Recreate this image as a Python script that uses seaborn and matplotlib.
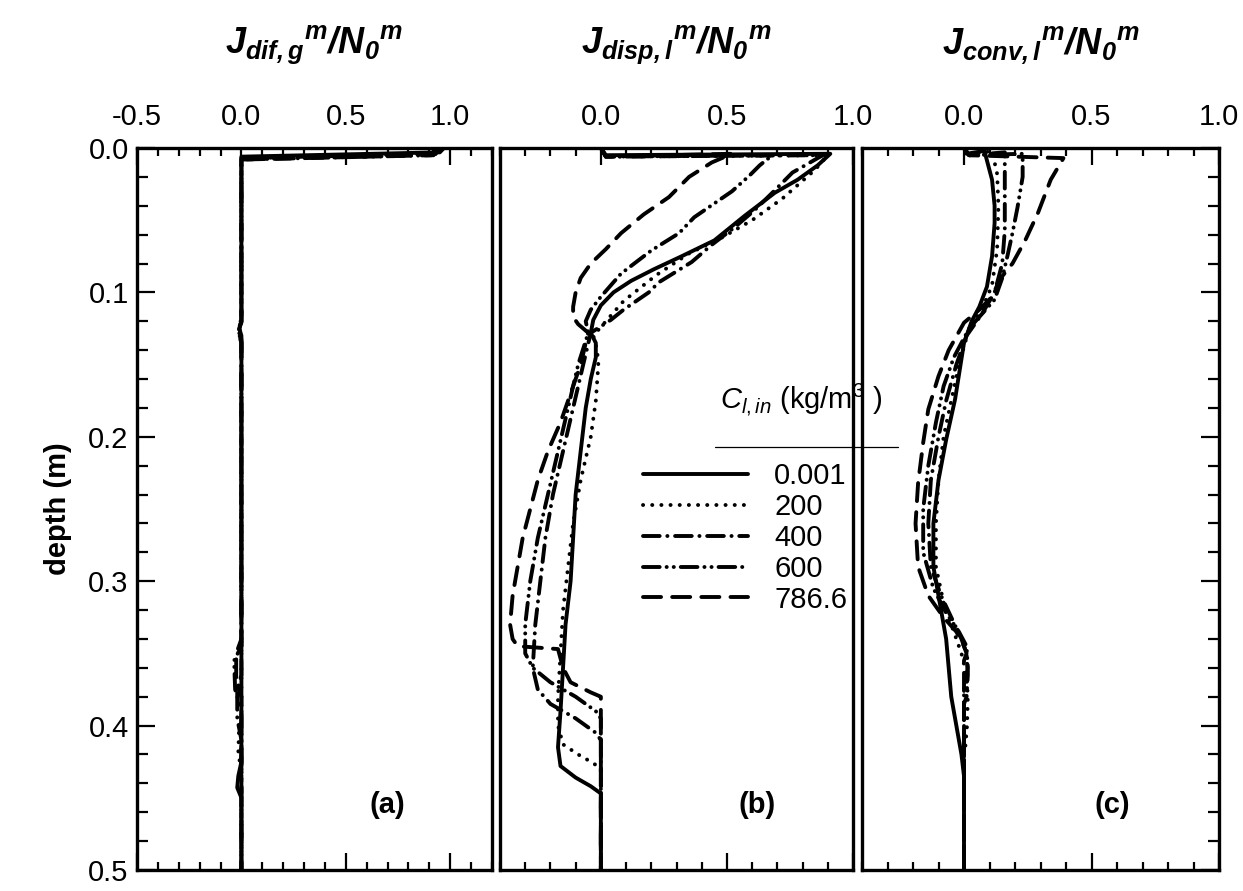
import matplotlib
matplotlib.use('Agg')
import matplotlib.pyplot as plt
import seaborn as sns
from matplotlib.ticker import MultipleLocator, FormatStrFormatter
from matplotlib.lines import Line2D

# Valori: profondita' (m) e flusso normalizzato
labels = ['0.001', '200', '400', '600', '786.6']

# (a) J_dif,g / N0
a_solid_d = [0, 0.003, 0.006, 0.12, 0.125, 0.13, 0.425, 0.435, 0.443, 0.45, 0.5]
a_solid_v = [0.97, 0.95, 0.0, 0.0, -0.01, 0.0, 0.0, -0.015, -0.02, 0.0, 0.0]
a_dot_d = [0, 0.004, 0.007, 0.118, 0.124, 0.132, 0.395, 0.405, 0.42, 0.43, 0.5]
a_dot_v = [0.96, 0.94, 0.0, 0.0, -0.012, 0.0, 0.0, -0.012, -0.015, 0.0, 0.0]
a_dd_d = [0, 0.004, 0.007, 0.12, 0.126, 0.133, 0.365, 0.375, 0.395, 0.41, 0.5]
a_dd_v = [0.95, 0.93, 0.0, 0.0, -0.015, 0.0, 0.0, -0.02, -0.02, 0.0, 0.0]
a_ddd_d = [0, 0.005, 0.008, 0.122, 0.127, 0.134, 0.345, 0.355, 0.375, 0.39, 0.5]
a_ddd_v = [0.94, 0.92, 0.0, 0.0, -0.015, 0.0, 0.0, -0.035, -0.03, 0.0, 0.0]
a_dash_d = [0, 0.005, 0.008, 0.12, 0.128, 0.135, 0.34, 0.35, 0.37, 0.38, 0.5]
a_dash_v = [0.93, 0.91, 0.0, 0.0, -0.015, 0.0, 0.0, -0.025, -0.025, 0.0, 0.0]

# (b) J_disp,l / N0
b_solid_d = [0, 0.005, 0.004, 0.012, 0.022, 0.031, 0.047, 0.064, 0.075, 0.084, 0.092,
             0.100, 0.109, 0.119, 0.128, 0.135, 0.145, 0.16, 0.18, 0.21, 0.24, 0.27,
             0.30, 0.33, 0.36, 0.39, 0.415, 0.428, 0.436, 0.442, 0.447, 0.5]
b_solid_v = [0, 0.02, 0.91, 0.86, 0.78, 0.69, 0.57, 0.45, 0.32, 0.21, 0.12,
             0.05, 0.0, -0.03, -0.04, -0.02, -0.02, -0.04, -0.06, -0.08, -0.1, -0.11,
             -0.12, -0.14, -0.15, -0.16, -0.17, -0.16, -0.10, -0.04, 0.0, 0.0]
b_dot_d = [0, 0.006, 0.005, 0.015, 0.035, 0.05, 0.062, 0.073, 0.088, 0.106, 0.124,
           0.13, 0.14, 0.15, 0.175, 0.2, 0.23, 0.26, 0.29, 0.32, 0.35, 0.38, 0.40,
           0.413, 0.42, 0.426, 0.43, 0.5]
b_dot_v = [0, 0.02, 0.9, 0.85, 0.72, 0.6, 0.48, 0.35, 0.22, 0.09, 0.0,
           -0.03, -0.015, -0.01, -0.02, -0.04, -0.08, -0.11, -0.13, -0.15, -0.16, -0.17, -0.17,
           -0.15, -0.09, -0.03, 0.0, 0.0]
b_dd_d = [0, 0.006, 0.005, 0.017, 0.031, 0.043, 0.055, 0.067, 0.079, 0.093, 0.1, 0.112,
          0.119, 0.128, 0.15, 0.18, 0.21, 0.24, 0.27, 0.30, 0.33, 0.36, 0.375, 0.385,
          0.395, 0.405, 0.41, 0.5]
b_dd_v = [0, 0.02, 0.88, 0.76, 0.68, 0.61, 0.53, 0.44, 0.36, 0.23, 0.19, 0.09,
          0.04, -0.04, -0.07, -0.11, -0.15, -0.19, -0.22, -0.24, -0.26, -0.27, -0.25, -0.2,
          -0.1, -0.02, 0.0, 0.0]
b_ddd_d = [0, 0.006, 0.005, 0.012, 0.019, 0.030, 0.048, 0.059, 0.071, 0.087, 0.103, 0.112,
           0.12, 0.128, 0.15, 0.18, 0.21, 0.24, 0.27, 0.30, 0.33, 0.35, 0.36, 0.37,
           0.38, 0.39, 0.395, 0.5]
b_ddd_v = [0, 0.02, 0.68, 0.63, 0.59, 0.52, 0.37, 0.31, 0.2, 0.08, 0.0, -0.04,
           -0.06, -0.05, -0.09, -0.13, -0.17, -0.21, -0.25, -0.28, -0.30, -0.30, -0.27, -0.2,
           -0.1, -0.02, 0.0, 0.0]
b_dash_d = [0, 0.006, 0.004, 0.01, 0.02, 0.034, 0.046, 0.059, 0.07, 0.08, 0.09, 0.1,
            0.11, 0.117, 0.122, 0.128, 0.135, 0.15, 0.17, 0.19, 0.21, 0.23, 0.25, 0.27, 0.29,
            0.31, 0.33, 0.34, 0.345, 0.347, 0.36, 0.37, 0.377, 0.38, 0.5]
b_dash_v = [0, 0.02, 0.52, 0.44, 0.35, 0.27, 0.17, 0.08, 0.02, -0.04, -0.08, -0.1,
            -0.11, -0.11, -0.09, -0.05, -0.06, -0.08, -0.12, -0.16, -0.21, -0.25, -0.28, -0.31, -0.33,
            -0.35, -0.36, -0.35, -0.33, -0.17, -0.15, -0.12, -0.04, 0.0, 0.0]

# (c) J_conv,l / N0
c_solid_d = [0, 0.004, 0.002, 0.022, 0.04, 0.052, 0.075, 0.096, 0.11, 0.12, 0.135, 0.174,
             0.202, 0.23, 0.26, 0.29, 0.32, 0.34, 0.36, 0.38, 0.40, 0.42, 0.435, 0.5]
c_solid_v = [0, 0.01, 0.08, 0.11, 0.12, 0.12, 0.11, 0.09, 0.06, 0.03, 0.0, -0.035,
             -0.07, -0.1, -0.12, -0.12, -0.09, -0.07, -0.06, -0.05, -0.03, -0.01, 0.0, 0.0]
c_dot_d = [0, 0.005, 0.002, 0.018, 0.04, 0.07, 0.095, 0.112, 0.125, 0.15, 0.175, 0.2,
           0.23, 0.26, 0.29, 0.315, 0.335, 0.35, 0.365, 0.38, 0.40, 0.415, 0.42, 0.5]
c_dot_v = [0, 0.02, 0.11, 0.13, 0.135, 0.13, 0.11, 0.07, 0.02, -0.02, -0.05, -0.08,
           -0.1, -0.11, -0.11, -0.08, -0.04, -0.01, 0.01, 0.015, 0.012, 0.005, 0.0, 0.0]
c_dd_d = [0, 0.005, 0.003, 0.028, 0.057, 0.08, 0.1, 0.115, 0.13, 0.15, 0.175, 0.2, 0.23,
          0.26, 0.29, 0.31, 0.325, 0.34, 0.35, 0.365, 0.38, 0.385, 0.5]
c_dd_v = [0, 0.02, 0.16, 0.16, 0.16, 0.15, 0.12, 0.07, 0.01, -0.03, -0.07, -0.1, -0.13,
          -0.14, -0.13, -0.09, -0.05, -0.01, 0.01, 0.015, 0.01, 0.0, 0.0]
c_ddd_d = [0, 0.005, 0.004, 0.02, 0.041, 0.059, 0.075, 0.09, 0.105, 0.115, 0.125, 0.145,
           0.165, 0.19, 0.22, 0.25, 0.28, 0.305, 0.322, 0.335, 0.345, 0.36, 0.37, 0.375, 0.5]
c_ddd_v = [0, 0.02, 0.23, 0.23, 0.21, 0.19, 0.17, 0.15, 0.12, 0.07, 0.02, -0.04,
           -0.08, -0.11, -0.14, -0.16, -0.16, -0.12, -0.07, -0.02, 0.01, 0.015, 0.01, 0.0, 0.0]
c_dash_d = [0, 0.005, 0.007, 0.022, 0.045, 0.064, 0.08, 0.091, 0.103, 0.112, 0.121, 0.14,
            0.158, 0.181, 0.204, 0.232, 0.26, 0.29, 0.31, 0.325, 0.335, 0.345, 0.35, 0.355, 0.5]
c_dash_v = [0, 0.02, 0.39, 0.34, 0.29, 0.24, 0.19, 0.14, 0.11, 0.06, 0.0, -0.06,
            -0.1, -0.14, -0.16, -0.18, -0.19, -0.18, -0.14, -0.08, -0.03, 0.0, 0.01, 0.0, 0.0]

panel_a = [(a_solid_v, a_solid_d), (a_dot_v, a_dot_d), (a_dd_v, a_dd_d),
           (a_ddd_v, a_ddd_d), (a_dash_v, a_dash_d)]
panel_b = [(b_solid_v, b_solid_d), (b_dot_v, b_dot_d), (b_dd_v, b_dd_d),
           (b_ddd_v, b_ddd_d), (b_dash_v, b_dash_d)]
panel_c = [(c_solid_v, c_solid_d), (c_dot_v, c_dot_d), (c_dd_v, c_dd_d),
           (c_ddd_v, c_ddd_d), (c_dash_v, c_dash_d)]

styles = ['-', (0, (0.1, 6.5)), (0, (12, 5.5, 0.1, 5.5)),
          (0, (12, 5, 0.1, 5, 0.1, 5)), (0, (13, 8))]

sns.set_style('ticks')
plt.rcParams['font.family'] = ['Liberation Sans', 'DejaVu Sans']
plt.rcParams['mathtext.fontset'] = 'custom'
plt.rcParams['mathtext.rm'] = 'Liberation Sans'
plt.rcParams['mathtext.it'] = 'Liberation Sans:italic'
plt.rcParams['mathtext.bf'] = 'Liberation Sans:bold:italic'
plt.rcParams['axes.unicode_minus'] = False
plt.rcParams['lines.scale_dashes'] = False
for key in ['text.color', 'axes.labelcolor', 'xtick.color', 'ytick.color', 'axes.edgecolor']:
    plt.rcParams[key] = 'black'

fig = plt.figure(figsize=(12.43, 8.91), dpi=100)
ax_a = fig.add_axes([137 / 1243, 21 / 891, 355 / 1243, 722 / 891])
ax_b = fig.add_axes([500 / 1243, 21 / 891, 353 / 1243, 722 / 891])
ax_c = fig.add_axes([862 / 1243, 21 / 891, 357 / 1243, 722 / 891])

handles = []
for ax, panel in [(ax_a, panel_a), (ax_b, panel_b), (ax_c, panel_c)]:
    for (v, d), ls in zip(panel, styles):
        sns.lineplot(x=v, y=d, sort=False, estimator=None, ax=ax, color='black',
                     linewidth=2.8, linestyle=ls, dash_capstyle='round',
                     solid_capstyle='round', solid_joinstyle='round')
        if ax is ax_b:
            handles.append(ax.lines[-1])

ax_a.set_xlim(-0.5, 1.2)
ax_b.set_xlim(-0.4, 1.0)
ax_c.set_xlim(-0.4, 1.0)

for ax in [ax_a, ax_b, ax_c]:
    ax.set_ylim(0.5, 0.0)
    ax.xaxis.set_major_locator(MultipleLocator(0.5))
    ax.xaxis.set_minor_locator(MultipleLocator(0.1))
    ax.yaxis.set_major_locator(MultipleLocator(0.1))
    ax.yaxis.set_minor_locator(MultipleLocator(0.02))
    ax.xaxis.set_major_formatter(FormatStrFormatter('%.1f'))
    ax.yaxis.set_major_formatter(FormatStrFormatter('%.1f'))
    ax.set_xlabel('')
    ax.set_ylabel('')
    for s in ax.spines.values():
        s.set_linewidth(2.4)
        s.set_color('black')
    ax.tick_params(axis='x', which='both', direction='in', top=True, bottom=True,
                   labeltop=True, labelbottom=False, labelsize=21, pad=12,
                   width=1.6, color='black', labelcolor='black')
    ax.tick_params(axis='x', which='major', length=12)
    ax.tick_params(axis='x', which='minor', length=6)
    ax.tick_params(axis='y', which='both', direction='in', left=False, right=False,
                   labelleft=False, labelsize=21, width=1.6, pad=6,
                   color='black', labelcolor='black')
    ax.tick_params(axis='y', which='major', length=13)
    ax.tick_params(axis='y', which='minor', length=8)

ax_a.tick_params(axis='y', which='both', left=True, labelleft=True)
ax_c.tick_params(axis='y', which='both', right=True)
ax_a.set_ylabel('depth (m)', fontsize=21, fontweight='bold', labelpad=12, color='black')

# titoli dei pannelli
titles = [r'$\mathbf{J_{dif,g}{}^{m}/N_{0}{}^{m}}$',
          r'$\mathbf{J_{disp,l}{}^{m}/N_{0}{}^{m}}$',
          r'$\mathbf{J_{conv,l}{}^{m}/N_{0}{}^{m}}$']
for ax, t in zip([ax_a, ax_b, ax_c], titles):
    bb = ax.get_position()
    fig.text(bb.x0 + bb.width / 2, 1 - 45 / 891, t, fontsize=26,
             ha='center', va='center', color='black')

# lettere dei pannelli
ax_a.text(0.70, 0.455, '(a)', fontsize=21, fontweight='bold', ha='center', va='center')
ax_b.text(0.62, 0.455, '(b)', fontsize=21, fontweight='bold', ha='center', va='center')
ax_c.text(0.58, 0.455, '(c)', fontsize=21, fontweight='bold', ha='center', va='center')

# legenda
leg = ax_b.legend(handles, labels, loc='upper left',
                  bbox_to_anchor=(643 / 1243, 1 - 462 / 891),
                  bbox_transform=fig.transFigure, frameon=False, fontsize=21,
                  handlelength=3.6, handletextpad=0.9, labelspacing=0.1,
                  borderpad=0, borderaxespad=0)
for ln in leg.get_lines():
    ln.set_linewidth(2.8)
for txt in leg.get_texts():
    txt.set_color('black')
fig.text(720 / 1243, 1 - 400 / 891, r'$C_{l,in}$ (kg/m$^{3}$ )', fontsize=21,
         ha='left', va='center', color='black')
fig.add_artist(Line2D([715 / 1243, 898 / 1243], [1 - 447 / 891, 1 - 447 / 891],
                      color='black', linewidth=0.9))

fig.savefig('out.png', dpi=100)
